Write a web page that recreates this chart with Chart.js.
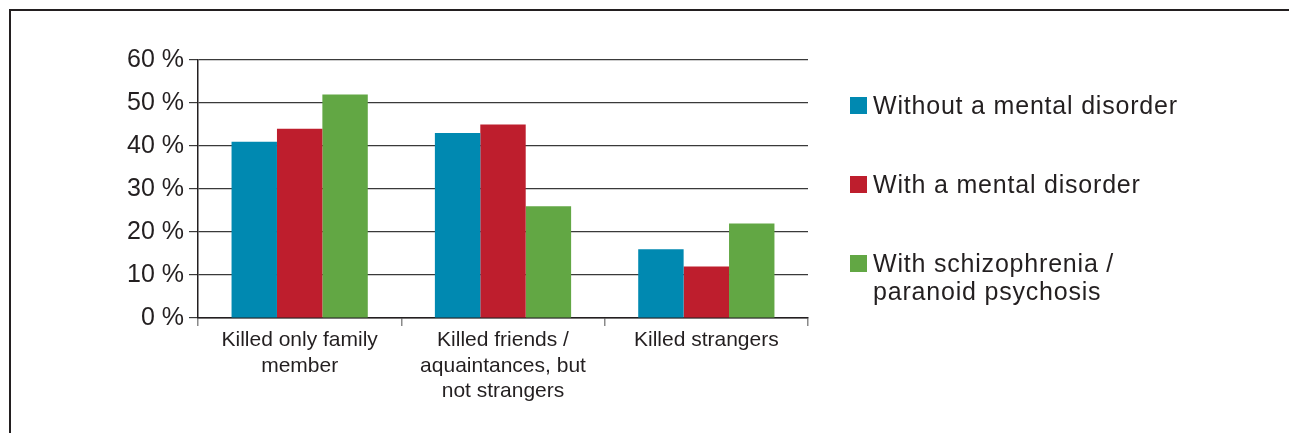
<!DOCTYPE html>
<html>
<head>
<meta charset="utf-8">
<script src="https://cdn.jsdelivr.net/npm/chart.js@4/dist/chart.umd.min.js"></script>
<style>
    html, body { margin: 0; padding: 0; background: #ffffff; }
    #wrap { position: relative; width: 1289px; height: 433px; }
</style>
</head>
<body>
<div id="wrap"><canvas id="killChart" width="1289" height="433"></canvas></div>
<script>
const categories = [
    ["Killed only family", "member"],
    ["Killed friends /", "aquaintances, but", "not strangers"],
    ["Killed strangers"],
];
const seriesNames = [
    ["Without a mental disorder"],
    ["With a mental disorder"],
    ["With schizophrenia /", "paranoid psychosis"],
];
const withoutDisorder = [41, 43, 16];
const withDisorder = [44, 45, 12];
const withSchizophrenia = [52, 26, 22];
const seriesColors = ["#0089b1", "#be1e2d", "#62a744"];

const textColor = "#231f20";
const fontFamily = "'Liberation Sans', Arial, Helvetica, sans-serif";

// frame lines on the top and left edge
const framePlugin = {
    id: "frame",
    beforeDraw(chart) {
        const ctx = chart.ctx;
        ctx.save();
        ctx.fillStyle = "#231f20";
        ctx.fillRect(9, 9, chart.width - 9, 2);
        ctx.fillRect(9, 9, 2, chart.height - 9);
        ctx.restore();
    },
};

// legend on the right, with wrapped labels
const sideLegend = {
    id: "sideLegend",
    afterDraw(chart) {
        const ctx = chart.ctx;
        const baselines = [114, 193, 272];
        const lineGap = 28;
        ctx.save();
        ctx.font = "25px " + fontFamily;
        ctx.letterSpacing = "0.8px";
        ctx.textBaseline = "alphabetic";
        ctx.textAlign = "left";
        chart.data.datasets.forEach((ds, i) => {
            const y = baselines[i];
            ctx.fillStyle = ds.backgroundColor;
            ctx.fillRect(850, y - 17, 17, 17);
            ctx.fillStyle = textColor;
            seriesNames[i].forEach((line, j) => {
                ctx.fillText(line, 873, y + j * lineGap);
            });
        });
        ctx.restore();
    },
};

const datasets = [withoutDisorder, withDisorder, withSchizophrenia].map((values, i) => ({
    label: seriesNames[i].join(" "),
    data: values,
    backgroundColor: seriesColors[i],
    borderWidth: 0,
    categoryPercentage: 0.67,
    barPercentage: 1.0,
}));

new Chart(document.getElementById("killChart").getContext("2d"), {
    type: "bar",
    data: {
        labels: categories,
        datasets: datasets,
    },
    options: {
        responsive: false,
        animation: false,
        layout: {
            padding: { top: 60, right: 481, bottom: 0, left: 0 },
        },
        plugins: {
            legend: { display: false },
            tooltip: { enabled: false },
        },
        scales: {
            x: {
                offset: true,
                afterFit: (scale) => { scale.height = 115; },
                grid: {
                    offset: true,
                    drawOnChartArea: false,
                    tickLength: 8,
                    color: "#8a8a8a",
                    lineWidth: 1.5,
                },
                border: { color: "#231f20", width: 1.5 },
                ticks: {
                    color: textColor,
                    padding: 2,
                    maxRotation: 0,
                    font: { family: fontFamily, size: 21, lineHeight: 1.2 },
                },
            },
            y: {
                min: 0,
                max: 60,
                afterFit: (scale) => { scale.width = 198; },
                grid: {
                    color: "#3a3a3a",
                    lineWidth: 1.2,
                    tickLength: 9,
                },
                border: { color: "#231f20", width: 1.5 },
                ticks: {
                    stepSize: 10,
                    color: textColor,
                    padding: 5,
                    font: { family: fontFamily, size: 25 },
                    callback: (value) => value + " %",
                },
            },
        },
    },
    plugins: [framePlugin, sideLegend],
});
</script>
</body>
</html>
